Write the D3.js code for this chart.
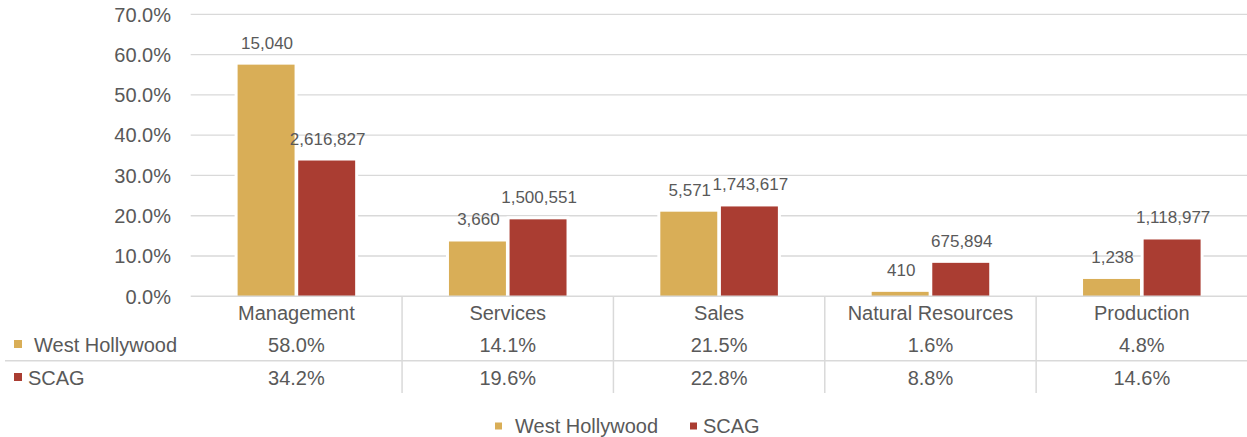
<!DOCTYPE html>
<html>
<head>
<meta charset="utf-8">
<script src="https://cdn.jsdelivr.net/npm/d3@7/dist/d3.min.js"></script>
<style>
  body { margin: 0; background: #fff; }
  svg { display: block; font-family: "Liberation Sans", Arial, sans-serif; }
  .lbl { fill: #595959; }
</style>
</head>
<body>
<div id="chart"></div>
<script>
// data
var categories = ["Management", "Services", "Sales", "Natural Resources", "Production"];
var seriesNames = ["West Hollywood", "SCAG"];
var westHollywoodPct = [58.0, 14.1, 21.5, 1.6, 4.8];
var scagPct = [34.2, 19.6, 22.8, 8.8, 14.6];
var westHollywoodCount = [15040, 3660, 5571, 410, 1238];
var scagCount = [2616827, 1500551, 1743617, 675894, 1118977];
var yTicks = [0, 10, 20, 30, 40, 50, 60, 70];

var colors = ["#D9AE57", "#AA3D32"];
var pctSeries = [westHollywoodPct, scagPct];
var countSeries = [westHollywoodCount, scagCount];

var width = 1247, height = 437;
var plotLeft = 190.7, plotRight = 1247.5;
var plotTop = 14.3, plotBottom = 296.3;
var barInset = 2; // white bar border eats the top of each fill

var svg = d3.select("#chart")
    .append("svg")
    .attr("width", width)
    .attr("height", height);

var x0 = d3.scaleBand()
    .domain(categories)
    .range([plotLeft, plotRight])
    .padding(0);

var x1 = d3.scaleBand()
    .domain(seriesNames)
    .range([0, x0.bandwidth()])
    .paddingInner(0.06)
    .paddingOuter(0.774);

var y = d3.scaleLinear()
    .domain([0, 70])
    .range([plotBottom, plotTop]);

// gridlines
svg.append("g")
    .selectAll("line")
    .data(yTicks.filter(function(d) { return d > 0; }))
    .enter()
    .append("line")
    .attr("x1", plotLeft)
    .attr("x2", plotRight)
    .attr("y1", function(d) { return y(d); })
    .attr("y2", function(d) { return y(d); })
    .attr("stroke", "#d9d9d9")
    .attr("stroke-width", 1.3);

// y tick labels
svg.append("g")
    .selectAll("text")
    .data(yTicks)
    .enter()
    .append("text")
    .attr("class", "lbl")
    .attr("x", 171)
    .attr("y", function(d) { return y(d); })
    .attr("dy", "0.36em")
    .attr("text-anchor", "end")
    .style("font-size", "20px")
    .text(function(d) { return d.toFixed(1) + "%"; });

// bars
seriesNames.forEach(function(name, s) {
    svg.append("g")
        .selectAll("rect")
        .data(pctSeries[s])
        .enter()
        .append("rect")
        .attr("x", function(d, i) { return x0(categories[i]) + x1(name); })
        .attr("y", function(d) { return y(d) + barInset; })
        .attr("width", x1.bandwidth())
        .attr("height", function(d) { return Math.max(0, plotBottom - y(d) - barInset); })
        .attr("fill", colors[s])
        .attr("stroke", "#fff")
        .attr("stroke-width", 6)
        .style("paint-order", "stroke");
});

// data labels
seriesNames.forEach(function(name, s) {
    svg.append("g")
        .selectAll("text")
        .data(countSeries[s])
        .enter()
        .append("text")
        .attr("class", "lbl")
        .attr("x", function(d, i) { return x0(categories[i]) + x1(name) + x1.bandwidth() / 2 + 1; })
        .attr("y", function(d, i) { return y(pctSeries[s][i]) - 14; })
        .attr("text-anchor", "middle")
        .style("font-size", "17px")
        .text(function(d) { return d3.format(",")(d); });
});

// axis line
svg.append("line")
    .attr("x1", plotLeft)
    .attr("x2", plotRight)
    .attr("y1", plotBottom)
    .attr("y2", plotBottom)
    .attr("stroke", "#d9d9d9")
    .attr("stroke-width", 1.5);

// data table
var tableBottom = 393;
var rowSep = 360.7;

svg.append("g")
    .selectAll("line")
    .data(categories.slice(1))
    .enter()
    .append("line")
    .attr("x1", function(d) { return x0(d); })
    .attr("x2", function(d) { return x0(d); })
    .attr("y1", plotBottom)
    .attr("y2", tableBottom)
    .attr("stroke", "#d9d9d9")
    .attr("stroke-width", 1.5);

svg.append("line")
    .attr("x1", 5)
    .attr("x2", plotRight)
    .attr("y1", rowSep)
    .attr("y2", rowSep)
    .attr("stroke", "#d9d9d9")
    .attr("stroke-width", 1.5);

svg.append("g")
    .selectAll("text")
    .data(categories)
    .enter()
    .append("text")
    .attr("class", "lbl")
    .attr("x", function(d) { return x0(d) + x0.bandwidth() / 2; })
    .attr("y", 320)
    .attr("text-anchor", "middle")
    .style("font-size", "20px")
    .text(function(d) { return d; });

var rowBaselines = [351.5, 384.5];
var rowTextX = [34, 28];
seriesNames.forEach(function(name, s) {
    svg.append("rect")
        .attr("x", 14)
        .attr("y", rowBaselines[s] - 11.5)
        .attr("width", 8)
        .attr("height", 8)
        .attr("fill", colors[s]);
    svg.append("text")
        .attr("class", "lbl")
        .attr("x", rowTextX[s])
        .attr("y", rowBaselines[s])
        .style("font-size", "20px")
        .text(name);
    svg.append("g")
        .selectAll("text")
        .data(pctSeries[s])
        .enter()
        .append("text")
        .attr("class", "lbl")
        .attr("x", function(d, i) { return x0(categories[i]) + x0.bandwidth() / 2; })
        .attr("y", rowBaselines[s])
        .attr("text-anchor", "middle")
        .style("font-size", "20px")
        .text(function(d) { return d.toFixed(1) + "%"; });
});

// legend
var legendX = [495, 690];
var legendTextX = [515, 703];
var legend = svg.append("g");
seriesNames.forEach(function(name, s) {
    legend.append("rect")
        .attr("x", legendX[s])
        .attr("y", 422.5)
        .attr("width", 7)
        .attr("height", 7)
        .attr("fill", colors[s]);
    legend.append("text")
        .attr("class", "lbl")
        .attr("x", legendTextX[s])
        .attr("y", 432.5)
        .style("font-size", "20px")
        .text(name);
});
</script>
</body>
</html>
